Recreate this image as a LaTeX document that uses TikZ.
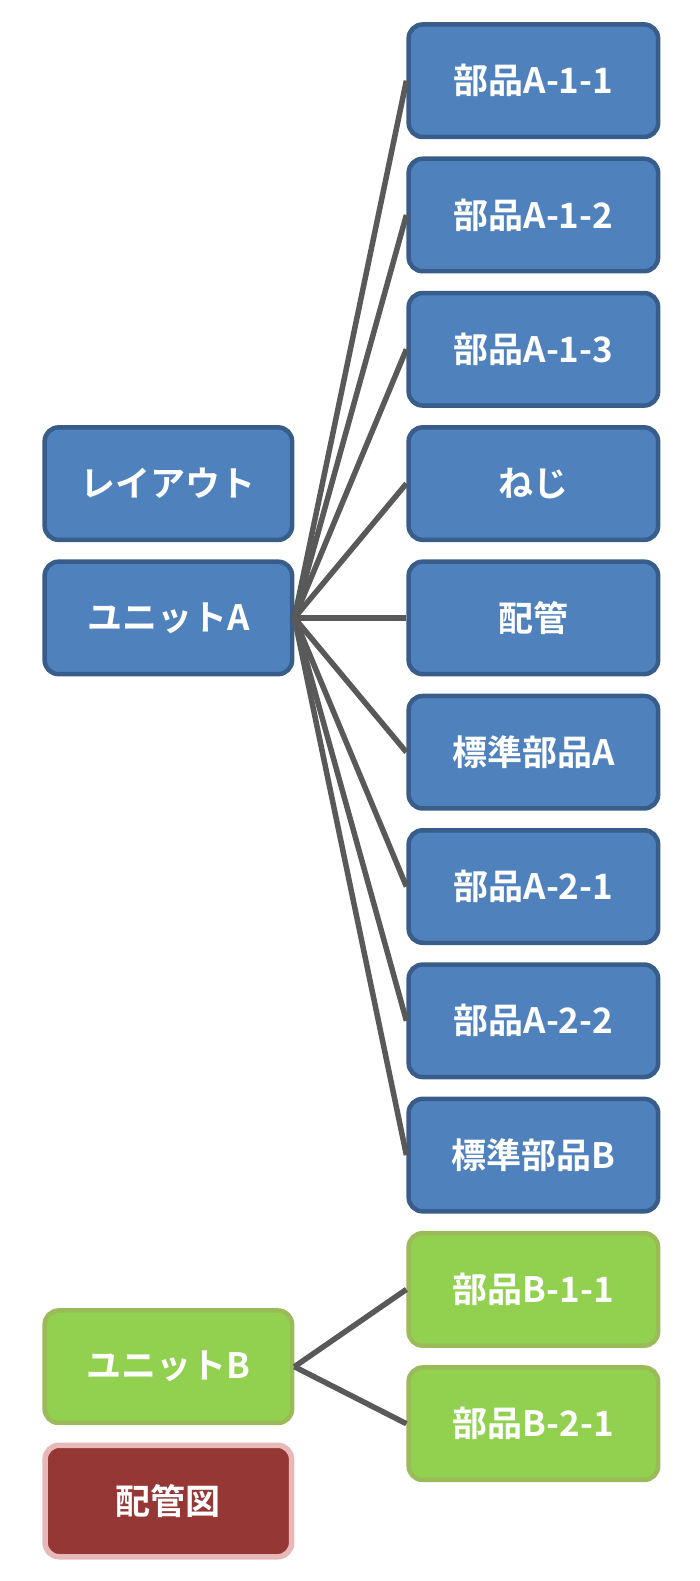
\documentclass[tikz,border=0pt]{standalone}
\usepackage{fontspec}
\setmainfont{Noto Sans CJK JP}[BoldFont={Noto Sans CJK JP Bold}]
\usepackage{tikz}
\usetikzlibrary{positioning,calc}

\definecolor{partblue}{HTML}{4F81BD}
\definecolor{partblueline}{HTML}{385D8A}
\definecolor{partgreen}{HTML}{92D050}
\definecolor{partgreenline}{HTML}{9BBB59}
\definecolor{pipered}{HTML}{953735}
\definecolor{pipepink}{HTML}{E6B9B8}
\definecolor{linkgray}{HTML}{595959}

\tikzset{
  box/.style={draw, rounded corners=14pt, line width=4.5pt, minimum width=249.5pt,
    minimum height=112.5pt, inner sep=0pt, text=white,
    font=\fontsize{35}{40}\selectfont\bfseries},
  bluebox/.style={box, fill=partblue, draw=partblueline},
  greenbox/.style={box, fill=partgreen, draw=partgreenline},
  redbox/.style={box, fill=pipered, draw=pipepink, line width=5.5pt},
  link/.style={draw=linkgray, line width=5.5pt},
}

\begin{document}
\begin{tikzpicture}[node distance=17.3pt]
        % Define the parts column
        \node[bluebox] (a11) {部品A-1-1};
        \node[bluebox, below=of a11] (a12) {部品A-1-2};
        \node[bluebox, below=of a12] (a13) {部品A-1-3};
        \node[bluebox, below=of a13] (neji) {ねじ};
        \node[bluebox, below=of neji] (haikan) {配管};
        \node[bluebox, below=of haikan] (stdA) {標準部品A};
        \node[bluebox, below=of stdA] (a21) {部品A-2-1};
        \node[bluebox, below=of a21] (a22) {部品A-2-2};
        \node[bluebox, below=of a22] (stdB) {標準部品B};
        \node[greenbox, below=of stdB] (b11) {部品B-1-1};
        \node[greenbox, below=of b11] (b21) {部品B-2-1};

        % Define the units
        \node[bluebox, minimum width=247.5pt, left=112pt of haikan] (unitA) {ユニットA};
        \node[bluebox, minimum width=247.5pt, above=of unitA] (layout) {レイアウト};
        \node[greenbox, minimum width=247.5pt, left=112pt of b21, yshift=57pt] (unitB) {ユニットB};
        \node[redbox, minimum width=246.5pt, minimum height=111.5pt, below=of unitB] (haikanzu) {配管図};

        % Draw the links
        \foreach \part in {a11,a12,a13,neji,haikan,stdA,a21,a22,stdB}
            \draw[link] (unitA.east) -- (\part.west);
        \foreach \part in {b11,b21}
            \draw[link] (unitB.east) -- (\part.west);

        \useasboundingbox ($(haikanzu.south west)+(-42.4pt,-21.5pt)$) rectangle ($(a11.north east)+(39.6pt,22.2pt)$);
    \end{tikzpicture}
\end{document}
